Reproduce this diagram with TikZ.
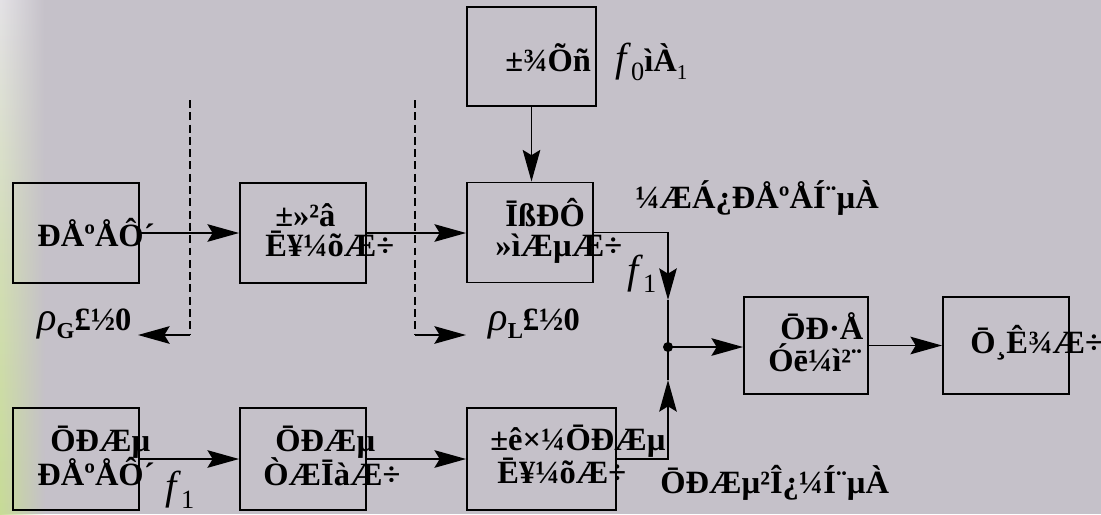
\documentclass[tikz,border=0pt]{standalone}
\usepackage{fontspec}
\setmainfont{Liberation Serif}
\usetikzlibrary{arrows.meta,fadings}
\definecolor{bgcol}{RGB}{197,193,201}
\definecolor{leafcol}{RGB}{200,220,150}
\definecolor{glowcol}{RGB}{228,226,230}
\tikzfading[name=fadeleft,left color=transparent!0,right color=transparent!100]
\newcommand{\fsub}[1]{{\mdseries\textit{f}}\raisebox{-0.45ex}{\fontsize{15}{17}\selectfont\mdseries #1}}
\newcommand{\rsub}[1]{{\mdseries\textit{ρ}}\raisebox{-0.45ex}{\fontsize{13}{15}\selectfont\bfseries #1}}
\tikzset{
  blk/.style={draw,line width=1.1pt,minimum width=2.52cm,minimum height=2cm,inner sep=0pt},
  lbl/.style={anchor=west,inner sep=0pt,font=\fontsize{18.5}{21}\selectfont\bfseries},
  mlbl/.style={anchor=west,inner sep=0pt,font=\fontsize{23}{26}\selectfont},
  arr/.style={line width=1pt,-{Stealth[length=18pt,width=10pt,inset=3pt]}},
  wire/.style={line width=1pt},
  cut/.style={line width=0.9pt,dash pattern=on 4.5pt off 2.5pt}
}
\begin{document}
\begin{tikzpicture}[x=0.02cm,y=-0.02cm]
    \useasboundingbox (0,0) rectangle (1101,514);
    \fill[bgcol] (0,0) rectangle (1101,514);
    \shade[top color=glowcol,bottom color=leafcol,middle color=leafcol!60!glowcol,path fading=fadeleft] (0,0) rectangle (45,514);

    \node[blk,minimum width=2.58cm,minimum height=1.98cm] (lo) at (531.5,56.5) {};
    \node[blk] (src) at (76,233) {};
    \node[blk] (att) at (303,233) {};
    \node[blk] (mix) at (530,232.5) {};
    \node[blk,minimum width=2.48cm,minimum height=1.94cm] (ifamp) at (806,345.5) {};
    \node[blk,minimum height=1.94cm] (ind) at (1006,345.5) {};
    \node[blk,minimum height=2.04cm] (ifsrc) at (76,459) {};
    \node[blk,minimum height=2.04cm] (shift) at (303,459) {};
    \node[blk,minimum width=2.98cm,minimum height=2.04cm] (stdatt) at (541.5,459) {};

    \node[lbl] (lotxt) at (505,62) {±¾Õñ\ \ \ {\fontsize{23}{26}\selectfont\fsub{0}}ìÀ\raisebox{-0.5ex}{\fontsize{12}{14}\selectfont\mdseries 1}};
    \node[lbl] (srctxt) at (37,233) {ÐÅºÅÔ´};
    \node[lbl] (atttxt1) at (275,215) {±»²â};
    \node[lbl] (atttxt2) at (265,244) {Ē¥¼õÆ÷};
    \node[lbl] (mixtxt1) at (505,213) {ĪßÐÔ};
    \node[lbl] (mixtxt2) at (495,249) {»ìÆµÆ÷};
    \node[lbl] (ifamptxt1) at (780,326) {ŌÐ·Å};
    \node[lbl] (ifamptxt2) at (768,358) {Óē¼ì²¨};
    \node[lbl] (indtxt) at (970,343) {Ō¸Ê¾Æ÷};
    \node[lbl] (ifsrctxt1) at (50,442) {ŌÐÆµ};
    \node[lbl] (ifsrctxt2) at (37,472) {ÐÅºÅÔ´};
    \node[lbl] (shifttxt1) at (275,442) {ŌÐÆµ};
    \node[lbl] (shifttxt2) at (263,472) {ÒÆĪàÆ÷};
    \node[lbl] (stdatttxt1) at (490,441) {±ê×¼ŌÐÆµ};
    \node[lbl] (stdatttxt2) at (497,471) {Ē¥¼õÆ÷};
    \node[lbl] (sigpath) at (635,198) {¼ÆÁ¿ÐÅºÅÍ¨µÀ};
    \node[lbl] (refpath) at (660,483) {ŌÐÆµ²Î¿¼Í¨µÀ};
    \node[mlbl] (f1top) at (627,274) {\fsub{1}};
    \node[mlbl] (f1bot) at (165,490) {\fsub{1}};
    \node[mlbl] (rhog) at (37,324) {\rsub{G}\fontsize{18.5}{21}\selectfont\bfseries£½0};
    \node[mlbl] (rhol) at (488,324) {\rsub{L}\fontsize{18.5}{21}\selectfont\bfseries£½0};

    \coordinate (cutg) at (190,100);
    \coordinate (cutgb) at (190,335);
    \coordinate (cutl) at (415,100);
    \coordinate (cutlb) at (415,335);
    \coordinate (gend) at (138,335);
    \coordinate (lend) at (466,335);
    \draw[cut] (cutg) -- (cutgb);
    \draw[cut] (cutl) -- (cutlb);
    \draw[arr] (cutgb) -- (gend);
    \draw[arr] (cutlb) -- (lend);

    \draw[arr] (src.east) -- (att.west);
    \draw[arr] (att.east) -- (att.east -| mix.west);
    \draw[arr] (lo.south) -- (lo.south |- mix.north);
    \coordinate (jn) at (668,347);
    \coordinate (dn) at (668,300);
    \coordinate (up) at (668,380);
    \draw[arr] (mix.east) -| (dn);
    \draw[wire] (dn) -- (jn);
    \draw[arr] (stdatt.east) -| (up);
    \draw[wire] (up) -- (jn);
    \fill (jn) circle (5);
    \draw[arr] (jn) -- (jn -| ifamp.west);
    \draw[arr] (ifamp.east) -- (ifamp.east -| ind.west);
    \draw[arr] (ifsrc.east) -- (shift.west);
    \draw[arr] (shift.east) -- (stdatt.west);
\end{tikzpicture}
\end{document}
